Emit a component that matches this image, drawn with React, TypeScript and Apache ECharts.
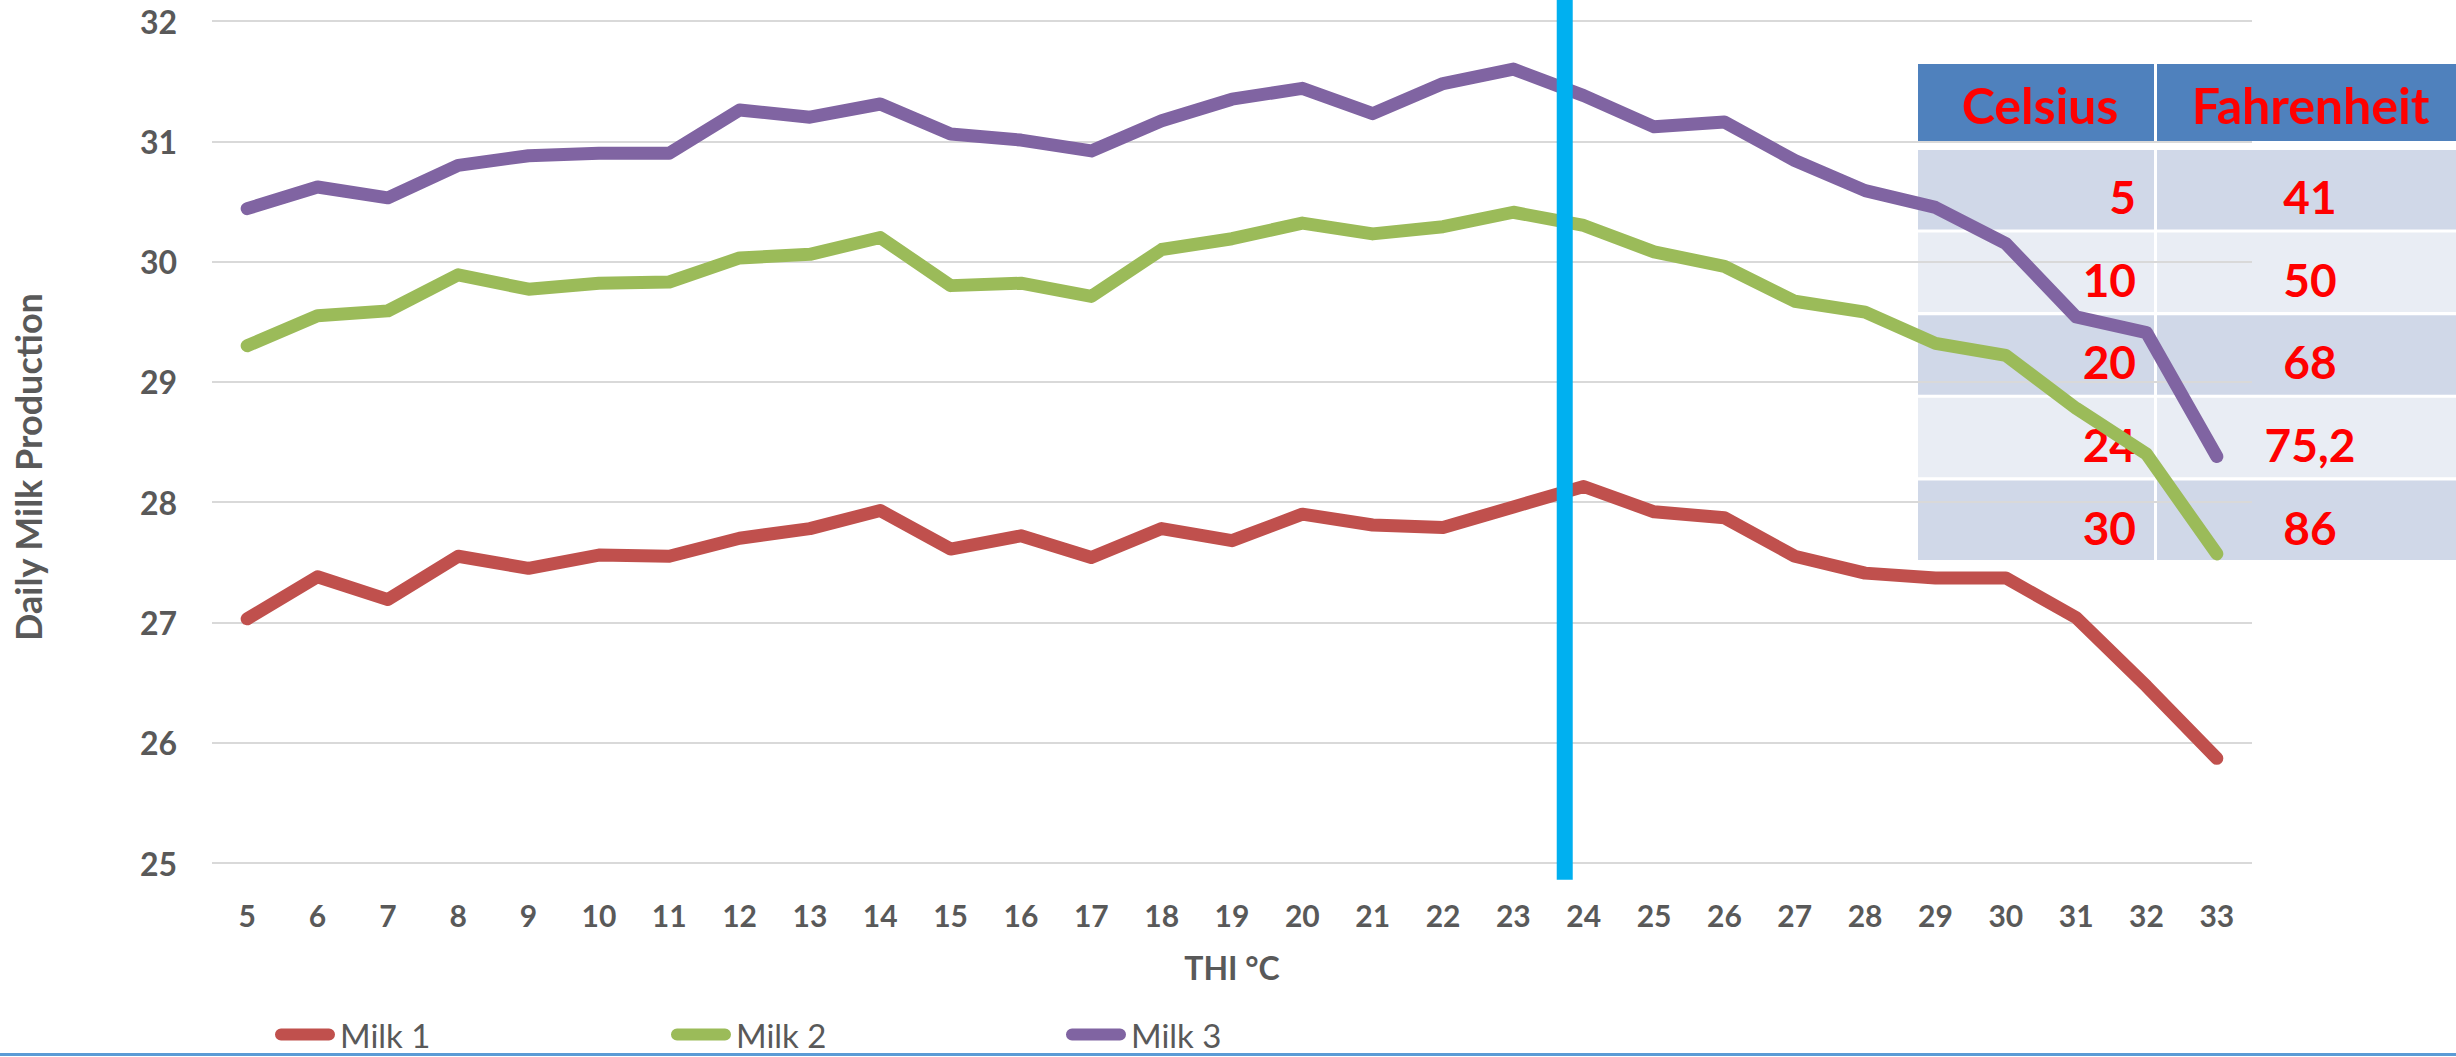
import React, { useEffect, useRef } from "react";
import * as echarts from "echarts";

const categories = ["5","6","7","8","9","10","11","12","13","14","15","16","17","18","19","20","21","22","23","24","25","26","27","28","29","30","31","32","33"];
const milk1 = [27.03,27.38,27.19,27.55,27.45,27.56,27.55,27.70,27.78,27.93,27.61,27.72,27.54,27.78,27.68,27.90,27.81,27.79,27.96,28.13,27.92,27.87,27.55,27.41,27.37,27.37,27.04,26.47,25.87];
const milk2 = [29.30,29.55,29.59,29.89,29.77,29.82,29.83,30.03,30.06,30.20,29.80,29.82,29.71,30.10,30.19,30.32,30.23,30.29,30.41,30.30,30.08,29.96,29.67,29.58,29.32,29.22,28.78,28.40,27.57];
const milk3 = [30.44,30.62,30.53,30.80,30.88,30.90,30.90,31.26,31.20,31.31,31.06,31.01,30.92,31.17,31.35,31.44,31.23,31.48,31.60,31.38,31.12,31.16,30.84,30.59,30.45,30.15,29.54,29.41,28.38];
const seriesNames = ["Milk 1", "Milk 2", "Milk 3"];
const seriesColors = ["#C0504D", "#9BBB59", "#8064A2"];
const yTicks = { min: 25, max: 32, interval: 1 };
const thresholdTHI = 23.73;
const thresholdSpan = [32.175, 24.86];
const tableHeaders = ["Celsius", "Fahrenheit"];
const celsiusValues = ["5", "10", "20", "24", "30"];
const fahrenheitValues = ["41", "50", "68", "75,2", "86"];

const W = 2456;
const H = 1057;
const TXT = "#595959";
const FONT = "Lato, 'Open Sans', sans-serif";

function buildTable() {
  const els: any[] = [];
  const x0 = 1918, split = 2154, gap = 3, x1 = W;
  const headTop = 64, headBot = 141;
  els.push({ type: "rect", z: -1, shape: { x: x0, y: headTop, width: split - x0, height: headBot - headTop }, style: { fill: "#4F81BD" } });
  els.push({ type: "rect", z: -1, shape: { x: split + gap, y: headTop, width: x1 - split - gap, height: headBot - headTop }, style: { fill: "#4F81BD" } });
  const hc = [(x0 + split) / 2 + 4, (split + gap + x1) / 2 + 4];
  tableHeaders.forEach((h, i) => {
    els.push({ type: "text", z: -1, x: hc[i], y: (headTop + headBot) / 2 + 2, style: { text: h, fill: "#FF0000", font: `bold 50px ${FONT}`, textAlign: "center", textVerticalAlign: "middle" } });
  });
  const rowTop = 150, pitch = 82.6, rh = 79.5;
  celsiusValues.forEach((c, i) => {
    const y = rowTop + i * pitch;
    const fill = i % 2 === 0 ? "#D0D8E8" : "#E9EDF4";
    els.push({ type: "rect", z: -1, shape: { x: x0, y, width: split - x0, height: rh }, style: { fill } });
    els.push({ type: "rect", z: -1, shape: { x: split + gap, y, width: x1 - split - gap, height: rh }, style: { fill } });
    els.push({ type: "text", z: -1, x: 2136, y: y + rh / 2 + 7, style: { text: c, fill: "#FF0000", font: `bold 46px ${FONT}`, textAlign: "right", textVerticalAlign: "middle" } });
    els.push({ type: "text", z: -1, x: 2310, y: y + rh / 2 + 7, style: { text: fahrenheitValues[i], fill: "#FF0000", font: `bold 46px ${FONT}`, textAlign: "center", textVerticalAlign: "middle" } });
  });
  return els;
}

export default function App() {
  const ref = useRef<HTMLDivElement>(null);
  useEffect(() => {
    if (!ref.current) return;
    const chart = echarts.init(ref.current, null, { renderer: "svg" });
    const legendLefts = [270, 666, 1061];
    const capsule = "path://M6,0 H54 A6,6 0 0 1 54,12 H6 A6,6 0 0 1 6,0 Z";
    const data = [milk1, milk2, milk3];
    chart.setOption({
      animation: false,
      backgroundColor: "#FFFFFF",
      grid: { left: 212, right: 204, top: 21, bottom: 194, containLabel: false },
      xAxis: [
        {
          type: "category",
          data: categories,
          boundaryGap: true,
          axisLine: { show: false },
          axisTick: { show: false },
          axisLabel: { color: TXT, fontSize: 30, fontWeight: "bold", fontFamily: FONT, margin: 37 },
          name: "THI °C",
          nameLocation: "middle",
          nameGap: 88,
          nameTextStyle: { color: TXT, fontSize: 32, fontWeight: "bold", fontFamily: FONT },
        },
        { type: "value", min: 4.5, max: 33.5, show: false },
      ],
      yAxis: {
        type: "value",
        min: yTicks.min,
        max: yTicks.max,
        interval: yTicks.interval,
        axisLine: { show: false },
        axisTick: { show: false },
        axisLabel: { color: TXT, fontSize: 32, fontWeight: "bold", fontFamily: FONT, margin: 35 },
        splitLine: { lineStyle: { color: "#D9D9D9", width: 2 } },
      },
      legend: seriesNames.map((n, i) => ({
        data: [{ name: n, icon: capsule }],
        left: legendLefts[i],
        top: 1013,
        itemWidth: 60,
        itemHeight: 13,
        textStyle: { color: TXT, fontSize: 33, fontFamily: FONT },
      })),
      series: [
        ...seriesNames.map((n, i) => ({
          name: n,
          type: "line",
          data: data[i],
          symbol: "none",
          z: 2,
          color: seriesColors[i],
          lineStyle: { color: seriesColors[i], width: 13, cap: "round", join: "round" },
        })),
        {
          name: "threshold",
          type: "line",
          xAxisIndex: 1,
          data: [[thresholdTHI, thresholdSpan[0]], [thresholdTHI, thresholdSpan[1]]],
          symbol: "none",
          clip: false,
          z: 5,
          lineStyle: { color: "#00B0F0", width: 16, cap: "butt" },
        },
      ],
      graphic: [
        ...buildTable(),
        {
          type: "text",
          x: 28,
          y: 467,
          rotation: Math.PI / 2,
          style: { text: "Daily Milk Production", fill: TXT, font: `bold 36px ${FONT}`, textAlign: "center", textVerticalAlign: "middle" },
        },
        { type: "rect", shape: { x: 0, y: 1053, width: W, height: 3 }, style: { fill: "#5B9BD5" } },
      ],
    });
    return () => chart.dispose();
  }, []);
  return <div ref={ref} style={{ position: "fixed", left: 0, top: 0, width: W, height: H }} />;
}
